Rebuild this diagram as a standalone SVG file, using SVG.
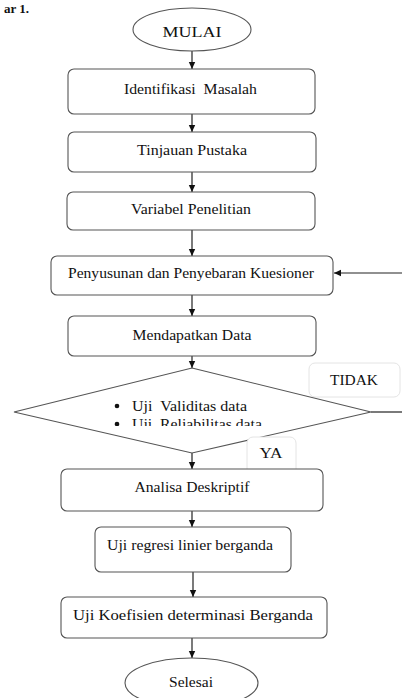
<svg xmlns="http://www.w3.org/2000/svg" width="402" height="698" viewBox="0 0 402 698">
<style>
.box{fill:#fff;stroke:#555;stroke-width:1.1}
.soft{fill:#fff;stroke:#e4e4e4;stroke-width:1}
.t{font-family:"Liberation Serif","Times New Roman",serif;font-size:15px;fill:#111;text-anchor:middle}
.tl{font-family:"Liberation Serif","Times New Roman",serif;font-size:15px;fill:#111}
.ln{stroke:#222;stroke-width:1.2;fill:none}
</style>
<defs>
<marker id="ah" markerWidth="8" markerHeight="8" refX="7" refY="4" orient="auto" markerUnits="userSpaceOnUse">
<path d="M0,0.8 L7,4 L0,7.2 Z" fill="#111"/>
</marker>
<clipPath id="dclip"><rect x="100" y="394" width="200" height="32"/></clipPath>
</defs>
<text x="4" y="13" font-family="Liberation Serif, serif" font-weight="bold" font-size="13" fill="#111">ar 1.</text>
<g id="connectors">
<line class="ln" x1="192" y1="51" x2="192" y2="69" marker-end="url(#ah)"/>
<line class="ln" x1="192" y1="114" x2="192" y2="132" marker-end="url(#ah)"/>
<line class="ln" x1="192" y1="172" x2="192" y2="192" marker-end="url(#ah)"/>
<line class="ln" x1="192" y1="230" x2="192" y2="256" marker-end="url(#ah)"/>
<line class="ln" x1="192" y1="295" x2="192" y2="316" marker-end="url(#ah)"/>
<line class="ln" x1="192" y1="356" x2="192" y2="368" marker-end="url(#ah)"/>
<line class="ln" x1="192" y1="453" x2="192" y2="469" marker-end="url(#ah)"/>
<line class="ln" x1="192" y1="511" x2="192" y2="527" marker-end="url(#ah)"/>
<line class="ln" x1="193" y1="572" x2="193" y2="597" marker-end="url(#ah)"/>
<line class="ln" x1="192" y1="638" x2="192" y2="658" marker-end="url(#ah)"/>
<line class="ln" x1="371" y1="412" x2="402" y2="412"/>
<line class="ln" x1="402" y1="273" x2="334" y2="273" marker-end="url(#ah)"/>
</g>
<g id="mulai">
<ellipse class="box" cx="192" cy="29.5" rx="59" ry="21.5"/>
<text class="t" x="192" y="37" font-size="19" textLength="59" lengthAdjust="spacingAndGlyphs">MULAI</text>
</g>
<g id="identifikasi">
<rect class="box" x="68" y="69" width="247" height="45" rx="6"/>
<text class="t" x="190.5" y="94" textLength="133" lengthAdjust="spacingAndGlyphs" xml:space="preserve">Identifikasi  Masalah</text>
</g>
<g id="tinjauan">
<rect class="box" x="68" y="132" width="248" height="40" rx="6"/>
<text class="t" x="192" y="155" textLength="110" lengthAdjust="spacingAndGlyphs">Tinjauan Pustaka</text>
</g>
<g id="variabel">
<rect class="box" x="67" y="192" width="248" height="38" rx="6"/>
<text class="t" x="191" y="214" textLength="120" lengthAdjust="spacingAndGlyphs">Variabel Penelitian</text>
</g>
<g id="penyusunan">
<rect class="box" x="51" y="256" width="282" height="39" rx="6"/>
<text class="t" x="191" y="278" textLength="246" lengthAdjust="spacingAndGlyphs">Penyusunan dan Penyebaran Kuesioner</text>
</g>
<g id="mendapatkan">
<rect class="box" x="68" y="316" width="248" height="40" rx="6"/>
<text class="t" x="192" y="340" textLength="119" lengthAdjust="spacingAndGlyphs">Mendapatkan Data</text>
</g>
<g id="tidak">
<rect class="soft" x="309" y="363" width="91" height="34" rx="6"/>
<text class="t" x="354" y="385" textLength="48" lengthAdjust="spacingAndGlyphs">TIDAK</text>
</g>
<g id="uji-data">
<polygon class="box" points="192,368 371,412 192,453 14,412"/>
<g clip-path="url(#dclip)">
<circle cx="117" cy="406" r="2.3" fill="#111"/>
<text class="tl" x="132" y="411" textLength="115" lengthAdjust="spacingAndGlyphs" xml:space="preserve">Uji  Validitas data</text>
<circle cx="117" cy="424" r="2.3" fill="#111"/>
<text class="tl" x="132" y="429" textLength="130" lengthAdjust="spacingAndGlyphs" xml:space="preserve">Uji  Reliabilitas data</text>
</g>
</g>
<g id="ya">
<rect class="soft" x="247" y="437" width="49" height="40" rx="6"/>
<text class="t" x="271" y="458" textLength="23" lengthAdjust="spacingAndGlyphs">YA</text>
</g>
<g id="analisa">
<rect class="box" x="61" y="469" width="262" height="42" rx="6"/>
<text class="t" x="192" y="492" textLength="115" lengthAdjust="spacingAndGlyphs">Analisa Deskriptif</text>
</g>
<g id="regresi">
<rect class="box" x="95" y="527" width="196" height="45" rx="6"/>
<text class="tl" x="107" y="550" textLength="166" lengthAdjust="spacingAndGlyphs">Uji regresi linier berganda</text>
</g>
<g id="koefisien">
<rect class="box" x="61" y="597" width="266" height="41" rx="6"/>
<text class="t" x="193" y="620" textLength="240" lengthAdjust="spacingAndGlyphs">Uji Koefisien determinasi Berganda</text>
</g>
<g id="selesai">
<ellipse class="box" cx="191.5" cy="683" rx="66.5" ry="25"/>
<text class="t" x="191" y="687" textLength="44" lengthAdjust="spacingAndGlyphs">Selesai</text>
</g>
</svg>
